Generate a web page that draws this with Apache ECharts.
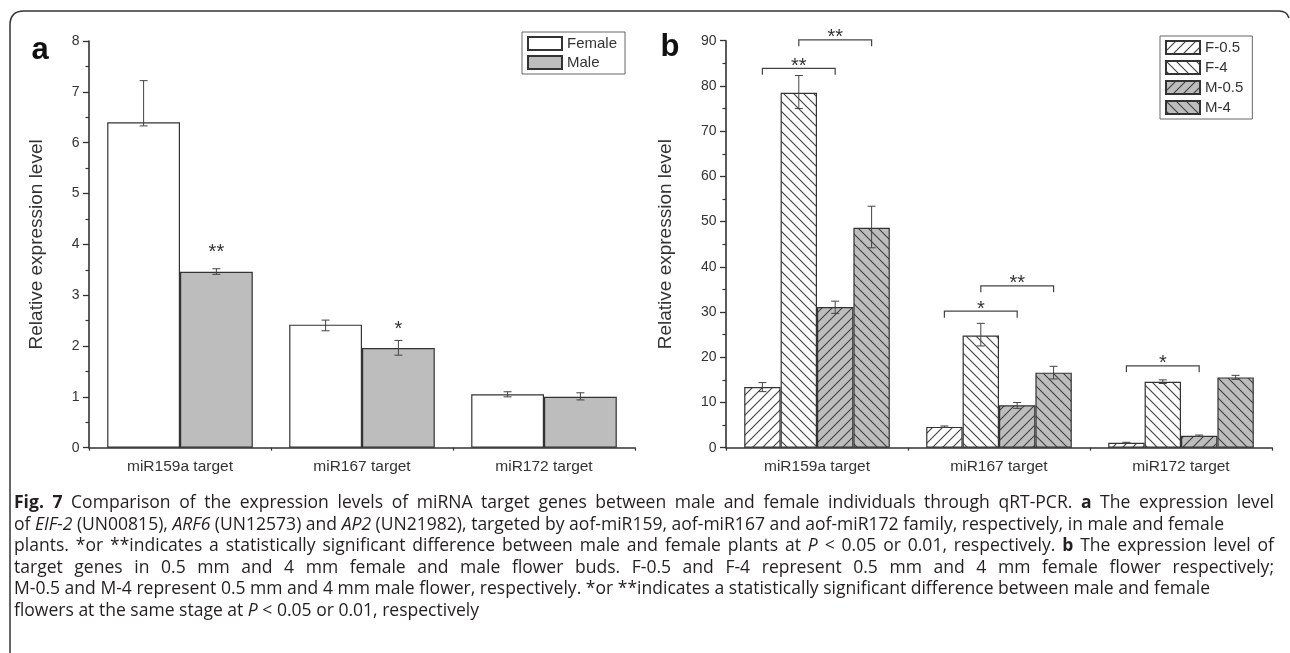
<!DOCTYPE html>
<html>
<head>
<meta charset="utf-8">
<script src="https://cdn.jsdelivr.net/npm/echarts@6.0.0/dist/echarts.min.js"></script>
<style>
  html, body { margin: 0; padding: 0; background: #fff; }
  #chart { width: 1290px; height: 653px; }
</style>
</head>
<body>
<div id="chart"></div>
<script>
// ---------- data ----------
const categories = ['miR159a target', 'miR167 target', 'miR172 target'];

// Panel a: female vs male plants
const seriesA = ['Female', 'Male'];
const femaleMean    = [6.40, 2.42, 1.05];
const femaleErrHigh = [7.22, 2.51, 1.10];
const femaleErrLow  = [6.33, 2.30, 1.00];
const maleMean      = [3.46, 1.96, 1.00];
const maleErrHigh   = [3.52, 2.11, 1.08];
const maleErrLow    = [3.41, 1.82, 0.94];
// significance marks: [category, bar, y, mark]
const sigA = [[0, 1, 3.93, '**'], [1, 1, 2.42, '*']];

// Panel b: flower buds by stage
const seriesB = ['F-0.5', 'F-4', 'M-0.5', 'M-4'];
const f05Mean    = [13.4, 4.6, 1.1];
const f05ErrHigh = [14.4, 4.8, 1.2];
const f05ErrLow  = [12.4, 4.5, 1.0];
const f4Mean     = [78.5, 24.8, 14.6];
const f4ErrHigh  = [82.3, 27.5, 15.0];
const f4ErrLow   = [75.0, 22.5, 14.2];
const m05Mean    = [31.1, 9.4, 2.65];
const m05ErrHigh = [32.4, 10.0, 2.8];
const m05ErrLow  = [29.7, 8.7, 2.5];
const m4Mean     = [48.65, 16.6, 15.55];
const m4ErrHigh  = [53.4, 18.0, 16.0];
const m4ErrLow   = [44.2, 15.2, 15.1];
// comparison brackets: [category, fromBar, toBar, y, mark]
const sigB = [
  [0, 0, 2, 83.9, '**'],
  [0, 1, 3, 90.2, '**'],
  [1, 0, 2, 30.2, '*'],
  [1, 1, 3, 35.8, '**'],
  [2, 0, 2, 18.1, '*']
];

const yTicksA = { min: 0, max: 8, interval: 1 };
const yTicksB = { min: 0, max: 90, interval: 10 };
const yName = 'Relative expression level';

// figure caption, one array of [text, style] runs per printed line
const captionLines = [
  { justify: true, runs: [['Fig. 7', 'b'], [' Comparison of the expression levels of miRNA target genes between male and female individuals through qRT-PCR. ', ''], ['a', 'b'], [' The expression level', '']] },
  { justify: false, runs: [['of ', ''], ['EIF-2', 'i'], [' (UN00815), ', ''], ['ARF6', 'i'], [' (UN12573) and ', ''], ['AP2', 'i'], [' (UN21982), targeted by aof-miR159, aof-miR167 and aof-miR172 family, respectively, in male and female', '']] },
  { justify: true, runs: [['plants. *or **indicates a statistically significant difference between male and female plants at ', ''], ['P', 'i'], [' < 0.05 or 0.01, respectively. ', ''], ['b', 'b'], [' The expression level of', '']] },
  { justify: true, runs: [['target genes in 0.5 mm and 4 mm female and male flower buds. F-0.5 and F-4 represent 0.5 mm and 4 mm female flower respectively;', '']] },
  { justify: false, runs: [['M-0.5 and M-4 represent 0.5 mm and 4 mm male flower, respectively. *or **indicates a statistically significant difference between male and female', '']] },
  { justify: false, runs: [['flowers at the same stage at ', ''], ['P', 'i'], [' < 0.05 or 0.01, respectively', '']] }
];

// ---------- styling helpers ----------
const FONT = 'Liberation Sans, Arial, sans-serif';
const INK = '#333';
const GREY = '#bdbdbd';

function hatch(bg, dir) {
  const s = 10;
  const c = document.createElement('canvas');
  c.width = s; c.height = s;
  const g = c.getContext('2d');
  g.fillStyle = bg;
  g.fillRect(0, 0, s, s);
  g.strokeStyle = '#404040';
  g.lineWidth = 1.1;
  g.beginPath();
  if (dir === '/') {
    g.moveTo(-1, s + 1); g.lineTo(s + 1, -1);
    g.moveTo(-1, 1); g.lineTo(1, -1);
    g.moveTo(s - 1, s + 1); g.lineTo(s + 1, s - 1);
  } else {
    g.moveTo(-1, -1); g.lineTo(s + 1, s + 1);
    g.moveTo(s - 1, -1); g.lineTo(s + 1, 1);
    g.moveTo(-1, s - 1); g.lineTo(1, s + 1);
  }
  g.stroke();
  return c;
}

function barSeries(name, data, fill, xIdx, yIdx) {
  return {
    name, type: 'bar', data, xAxisIndex: xIdx, yAxisIndex: yIdx,
    barCategoryGap: '20%', barGap: '0%',
    itemStyle: { color: fill, borderColor: INK, borderWidth: 1.2 },
    emphasis: { disabled: true }, z: 2
  };
}

// error bars placed over bar k of n inside each category band
function errSeries(k, n, hi, lo, xIdx, yIdx) {
  return {
    type: 'custom', xAxisIndex: xIdx, yAxisIndex: yIdx, z: 5, silent: true,
    data: categories.map((c, i) => [i, hi[i], lo[i]]),
    renderItem(params, api) {
      const c = api.value(0);
      const base = api.coord([c, 0]);
      const bw = api.size([1, 0])[0] * 0.8 / n;
      const x = base[0] + (k - (n - 1) / 2) * bw;
      const yh = api.coord([c, api.value(1)])[1];
      const yl = api.coord([c, api.value(2)])[1];
      const st = { stroke: '#444', lineWidth: 1 };
      const cap = 4;
      return {
        type: 'group', children: [
          { type: 'line', shape: { x1: x, y1: yh, x2: x, y2: yl }, style: st },
          { type: 'line', shape: { x1: x - cap, y1: yh, x2: x + cap, y2: yh }, style: st },
          { type: 'line', shape: { x1: x - cap, y1: yl, x2: x + cap, y2: yl }, style: st }
        ]
      };
    }
  };
}

const STAR_SIZE = 20;
function starSeries(marks, n, xIdx, yIdx) {
  return {
    type: 'custom', xAxisIndex: xIdx, yAxisIndex: yIdx, z: 6, silent: true, clip: false,
    data: marks.map(m => [m[0], m[1], m[2]]),
    renderItem(params, api) {
      const c = api.value(0);
      const bw = api.size([1, 0])[0] * 0.8 / n;
      const base = api.coord([c, api.value(2)]);
      const x = base[0] + (api.value(1) - (n - 1) / 2) * bw;
      return {
        type: 'text', x, y: base[1] + 5,
        style: { text: marks[params.dataIndex][3], fontSize: STAR_SIZE, fontFamily: FONT, fill: INK, align: 'center', verticalAlign: 'middle' }
      };
    }
  };
}

function bracketSeries(marks, n, xIdx, yIdx) {
  return {
    type: 'custom', xAxisIndex: xIdx, yAxisIndex: yIdx, z: 6, silent: true, clip: false,
    data: marks.map(m => [m[0], m[1], m[2], m[3]]),
    renderItem(params, api) {
      const c = api.value(0);
      const bw = api.size([1, 0])[0] * 0.8 / n;
      const base = api.coord([c, api.value(3)]);
      const x1 = base[0] + (api.value(1) - (n - 1) / 2) * bw;
      const x2 = base[0] + (api.value(2) - (n - 1) / 2) * bw;
      const y = base[1];
      const drop = 6.5;
      return {
        type: 'group', children: [
          { type: 'polyline', shape: { points: [[x1, y + drop], [x1, y], [x2, y], [x2, y + drop]] }, style: { stroke: '#444', lineWidth: 1.2, fill: null } },
          { type: 'text', x: (x1 + x2) / 2, y: y - 2, style: { text: marks[params.dataIndex][4], fontSize: STAR_SIZE, fontFamily: FONT, fill: INK, align: 'center', verticalAlign: 'middle' } }
        ]
      };
    }
  };
}

function catAxis(grid) {
  return {
    type: 'category', gridIndex: grid, data: categories,
    axisLine: { lineStyle: { color: INK, width: 1.6 } },
    axisTick: { alignWithLabel: true, length: 5, lineStyle: { color: INK, width: 1.3 } },
    axisLabel: { color: INK, fontSize: 15.5, fontFamily: FONT, margin: 11 },
    splitLine: { show: false }
  };
}
function boundaryAxis(grid) {
  return {
    type: 'value', gridIndex: grid, min: 0, max: 3, interval: 1, position: 'bottom',
    axisLine: { show: false },
    axisTick: { show: true, length: 3, lineStyle: { color: INK, width: 1.2 } },
    axisLabel: { show: false }, splitLine: { show: false }
  };
}
function valAxis(grid, t, gap) {
  return {
    type: 'value', gridIndex: grid, min: t.min, max: t.max, interval: t.interval,
    name: yName, nameLocation: 'middle', nameGap: gap,
    nameTextStyle: { fontSize: 19, fontFamily: FONT, color: INK },
    axisLine: { show: true, lineStyle: { color: INK, width: 1.6 } },
    axisTick: { show: true, length: 6, lineStyle: { color: INK, width: 1.3 } },
    minorTick: { show: true, splitNumber: 2, length: 3.5, lineStyle: { color: INK, width: 1.2 } },
    axisLabel: { color: INK, fontSize: 14, fontFamily: FONT, margin: 9.5 },
    splitLine: { show: false }
  };
}

// ---------- caption layout ----------
const CAP_SIZE = 17.5;
const CAP_FAMILY = '"Open Sans"';
const CAP_LEFT = 14, CAP_RIGHT = 1274, CAP_TOP = 503, CAP_LEAD = 21.6;
const measureCtx = document.createElement('canvas').getContext('2d');
function capFont(st) {
  return (st === 'i' ? 'italic ' : '') + (st === 'b' ? 'bold ' : '') + CAP_SIZE + 'px ' + CAP_FAMILY;
}
function textWidth(t, st) { measureCtx.font = capFont(st); return measureCtx.measureText(t).width; }
function toWords(runs) {
  const words = []; let cur = [];
  runs.forEach(([txt, st]) => {
    txt.split(' ').forEach((p, i) => {
      if (i > 0) { if (cur.length) words.push(cur); cur = []; }
      if (p) cur.push([p, st]);
    });
  });
  if (cur.length) words.push(cur);
  return words;
}
function lineNaturalWidth(words) {
  let w = 0;
  words.forEach((wd, i) => { wd.forEach(([t, st]) => { w += textWidth(t, st); }); if (i) w += textWidth(' ', ''); });
  return w;
}
// horizontal scaling so the second (unjustified) line spans its printed width
const condense = 1210 / lineNaturalWidth(toWords(captionLines[1].runs));

const captionGraphics = [];
captionLines.forEach((line, li) => {
  const words = toWords(line.runs);
  const y = CAP_TOP + li * CAP_LEAD;
  const wordW = words.map(wd => wd.reduce((s, [t, st]) => s + textWidth(t, st) * condense, 0));
  const total = wordW.reduce((a, b) => a + b, 0);
  const gap = line.justify ? (CAP_RIGHT - CAP_LEFT - total) / (words.length - 1) : textWidth(' ', '') * condense;
  let x = CAP_LEFT;
  words.forEach((wd, wi) => {
    let px = x;
    wd.forEach(([t, st]) => {
      captionGraphics.push({
        type: 'text', x: px, y, scaleX: condense, silent: true,
        style: {
          text: t, fontSize: CAP_SIZE, fontFamily: 'Open Sans',
          fontWeight: st === 'b' ? 'bold' : 'normal', fontStyle: st === 'i' ? 'italic' : 'normal',
          fill: '#231f20', align: 'left', verticalAlign: 'middle'
        }
      });
      px += textWidth(t, st) * condense;
    });
    x += wordW[wi] + gap;
  });
});

// panel frame: left edge, rounded top-left corner, top edge, short top-right turn
const frameStyle = { fill: null, stroke: '#333', lineWidth: 1.5 };
const frameGraphics = [
  { type: 'line', silent: true, shape: { x1: 10, y1: 653, x2: 10, y2: 25 }, style: frameStyle },
  { type: 'bezierCurve', silent: true, shape: { x1: 10, y1: 25, cpx1: 10, cpy1: 11, x2: 24, y2: 11 }, style: frameStyle },
  { type: 'line', silent: true, shape: { x1: 24, y1: 11, x2: 1279, y2: 11 }, style: frameStyle },
  { type: 'bezierCurve', silent: true, shape: { x1: 1279, y1: 11, cpx1: 1287, cpy1: 11, x2: 1289, y2: 18 }, style: frameStyle }
];

// ---------- chart ----------
const chart = echarts.init(document.getElementById('chart'), null, { renderer: 'canvas' });

const option = {
  animation: false,
  backgroundColor: '#fff',
  textStyle: { fontFamily: FONT },
  grid: [
    { left: 89, top: 41, width: 546, height: 406.7 },
    { left: 726, top: 40.7, width: 546, height: 407 }
  ],
  xAxis: [catAxis(0), boundaryAxis(0), catAxis(1), boundaryAxis(1)],
  yAxis: [valAxis(0, yTicksA, 42.5), valAxis(1, yTicksB, 50.5)],
  legend: [
    {
      data: seriesA, left: 522, top: 32, orient: 'vertical',
      itemWidth: 34, itemHeight: 13, itemGap: 4, padding: [4, 8, 4, 5],
      borderColor: '#666', borderWidth: 1, icon: 'rect', selectedMode: false,
      textStyle: { fontSize: 15, fontFamily: FONT, color: INK, lineHeight: 15 }
    },
    {
      data: seriesB, left: 1160, top: 36, orient: 'vertical',
      itemWidth: 34, itemHeight: 13, itemGap: 5, padding: [4, 9, 4, 5],
      borderColor: '#666', borderWidth: 1, icon: 'rect', selectedMode: false,
      textStyle: { fontSize: 15, fontFamily: FONT, color: INK, lineHeight: 15 }
    }
  ],
  graphic: [
    ...frameGraphics,
    { type: 'text', x: 40, y: 50, silent: true, style: { text: 'a', fontSize: 31, fontWeight: 'bold', fontFamily: FONT, fill: '#111', align: 'center', verticalAlign: 'middle' } },
    { type: 'text', x: 670, y: 47, silent: true, style: { text: 'b', fontSize: 31, fontWeight: 'bold', fontFamily: FONT, fill: '#111', align: 'center', verticalAlign: 'middle' } },
    ...captionGraphics
  ],
  series: [
    barSeries(seriesA[0], femaleMean, '#ffffff', 0, 0),
    barSeries(seriesA[1], maleMean, GREY, 0, 0),
    errSeries(0, 2, femaleErrHigh, femaleErrLow, 0, 0),
    errSeries(1, 2, maleErrHigh, maleErrLow, 0, 0),
    starSeries(sigA, 2, 0, 0),

    barSeries(seriesB[0], f05Mean, { image: hatch('#ffffff', '/'), repeat: 'repeat' }, 2, 1),
    barSeries(seriesB[1], f4Mean, { image: hatch('#ffffff', '\\'), repeat: 'repeat' }, 2, 1),
    barSeries(seriesB[2], m05Mean, { image: hatch(GREY, '/'), repeat: 'repeat' }, 2, 1),
    barSeries(seriesB[3], m4Mean, { image: hatch(GREY, '\\'), repeat: 'repeat' }, 2, 1),
    errSeries(0, 4, f05ErrHigh, f05ErrLow, 2, 1),
    errSeries(1, 4, f4ErrHigh, f4ErrLow, 2, 1),
    errSeries(2, 4, m05ErrHigh, m05ErrLow, 2, 1),
    errSeries(3, 4, m4ErrHigh, m4ErrLow, 2, 1),
    bracketSeries(sigB, 4, 2, 1)
  ]
};
chart.setOption(option);
</script>
</body>
</html>
